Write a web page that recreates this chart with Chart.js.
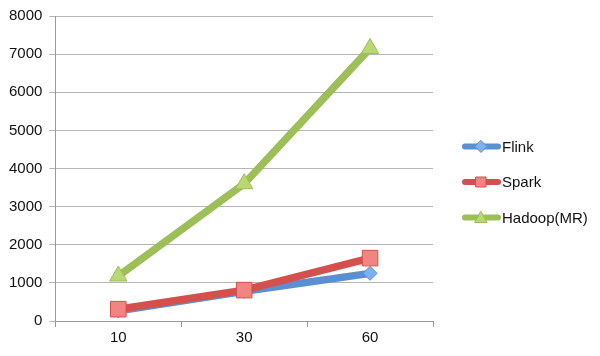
<!DOCTYPE html>
<html><head><meta charset="utf-8">
<script src="https://cdn.jsdelivr.net/npm/chart.js@4"></script>
<style>html,body{margin:0;padding:0;background:#fff}#wrap{width:600px;height:356px}</style>
</head><body><div id="wrap"><canvas id="c" width="600" height="356"></canvas></div>
<script>
const categories = ["10", "30", "60"];
const flink = [270, 780, 1250];
const spark = [310, 810, 1650];
const hadoop = [1180, 3600, 7150];
const yTicks = [0, 1000, 2000, 3000, 4000, 5000, 6000, 7000, 8000];

const series = [
  {label: "Flink", data: flink, color: "#5A8FD2", fill: "#7DB2EE", style: "rectRot", r: 7},
  {label: "Spark", data: spark, color: "#D4504C", fill: "#F28482", style: "rect", r: 11},
  {label: "Hadoop(MR)", data: hadoop, color: "#9CBF58", fill: "#B9D774", style: "triangle", r: 10}
];

const FONT = 'Liberation Sans';

function drawMarker(g, style, cx, cy, fill, stroke) {
  g.fillStyle = fill; g.strokeStyle = stroke; g.lineWidth = 1;
  g.beginPath();
  if (style === 'rectRot') { g.moveTo(cx, cy - 6); g.lineTo(cx + 6, cy); g.lineTo(cx, cy + 6); g.lineTo(cx - 6, cy); g.closePath(); }
  else if (style === 'rect') { g.rect(cx - 5, cy - 5, 10, 10); }
  else { g.moveTo(cx, cy - 6); g.lineTo(cx + 6, cy + 5); g.lineTo(cx - 6, cy + 5); g.closePath(); }
  g.fill(); g.stroke();
}

const legendPlugin = {
  id: 'sideLegend',
  afterDraw(chart) {
    const g = chart.ctx;
    const x0 = chart.chartArea.right + 29;
    const midY = chart.height / 2 + 4;
    const gap = 35.5;
    g.save();
    series.forEach((s, i) => {
      const y = midY + (i - 1) * gap;
      g.strokeStyle = s.color; g.lineWidth = 6; g.lineCap = 'round';
      g.beginPath(); g.moveTo(x0 + 3, y); g.lineTo(x0 + 36, y); g.stroke();
      drawMarker(g, s.style, x0 + 19, y, s.fill, s.color);
      g.fillStyle = '#111';
      g.font = '15px "' + FONT + '"';
      g.textBaseline = 'middle'; g.textAlign = 'left';
      g.fillText(s.label, x0 + 40, y + 1);
    });
    g.restore();
  }
};

const ctx = document.getElementById('c').getContext('2d');
new Chart(ctx, {
  type: 'line',
  data: {
    labels: categories,
    datasets: series.map((s, i) => ({
      label: s.label, data: s.data,
      borderColor: s.color, backgroundColor: s.fill,
      borderWidth: 7.5, pointStyle: s.style, pointRadius: s.r,
      pointBackgroundColor: s.fill, pointBorderColor: s.color, pointBorderWidth: 1,
      tension: 0, order: 3 - i
    }))
  },
  plugins: [legendPlugin],
  options: {
    responsive: false, animation: false,
    layout: {padding: {top: 4, right: 167, left: 2, bottom: 7}},
    plugins: {
      tooltip: {enabled: false},
      legend: {display: false}
    },
    scales: {
      x: {
        offset: true,
        grid: {offset: true, drawOnChartArea: false, drawTicks: true, tickLength: 6, color: '#999'},
        border: {color: '#999'},
        ticks: {color: '#111', font: {family: FONT, size: 15}, padding: 2}
      },
      y: {
        min: 0, max: 8000,
        afterBuildTicks(axis) { axis.ticks = yTicks.map(v => ({value: v})); },
        grid: {color: '#b5b5b5', tickLength: 6},
        border: {color: '#999'},
        ticks: {color: '#111', font: {family: FONT, size: 15}, padding: 7, callback: v => String(v)}
      }
    }
  }
});
</script></body></html>
